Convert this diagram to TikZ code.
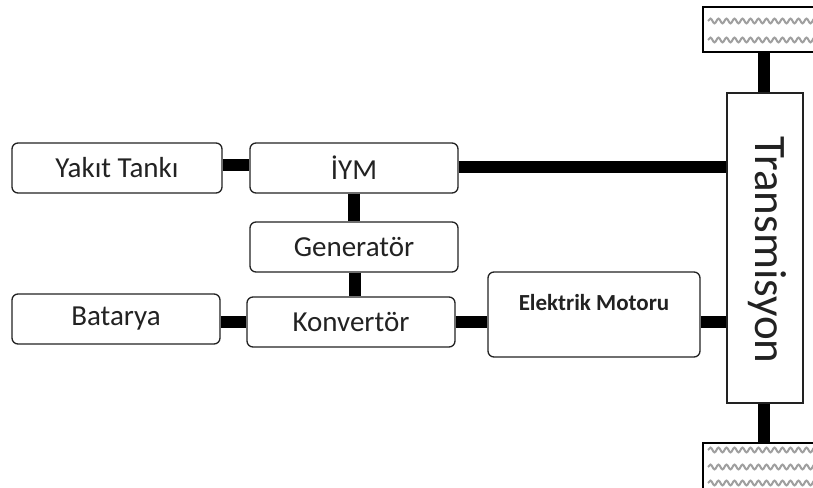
\documentclass[tikz,border=0pt]{standalone}
\usepackage{fontspec}
\setmainfont{Carlito}
\usetikzlibrary{decorations.pathmorphing}
\definecolor{ink}{HTML}{222222}
\tikzset{
  blk/.style={draw=ink, line width=1.3pt, rounded corners=6pt, fill=white,
    inner sep=0pt, minimum width=208pt, minimum height=50pt,
    font=\fontsize{29}{32}\selectfont, text=ink},
  shaft/.style={line width=12pt, black},
  tyre/.style={draw=black, line width=2pt, fill=white},
  tread/.style={gray!75, line width=2pt,
    decorate, decoration={snake, amplitude=2.4pt, segment length=8pt}}
}
\begin{document}
\begin{tikzpicture}[x=1pt,y=-1pt]
\useasboundingbox (0,0) rectangle (813,487);
\clip (0,0) rectangle (813,487);

% wheels
\draw[tyre] (703,7) rectangle (830,52);
\foreach \yy in {21,40} \draw[tread] (708,\yy) -- (825,\yy);
\draw[tyre] (703,443) rectangle (830,500);
\foreach \yy in {450,467,483} \draw[tread] (708,\yy) -- (825,\yy);

% component blocks
\node[blk, minimum width=210pt] (tank) at (117,168) {Yakıt Tankı};
\node[blk] (iym) at (354,168) {İYM};
\node[blk] (gen) at (354,247) {Generatör};
\node[blk] (conv) at (351,322) {Konvertör};
\node[blk] (bat) at (116,319) {Batarya};
\node[blk, minimum width=212pt, minimum height=85pt] (mot) at (594,314.5) {};
\node[font=\bfseries\fontsize{23}{26}\selectfont, text=ink] at (594,303) {Elektrik Motoru};
\node[draw=ink, line width=1.3pt, fill=white, minimum width=76pt, minimum height=310pt,
  inner sep=0pt] (tr) at (765,248) {};
\node[rotate=-90, font=\fontsize{45}{48}\selectfont, text=ink] at (767,250) {Transmisyon};

% shafts
\coordinate (wt) at (764,52);
\coordinate (wb) at (764,443);
\draw[shaft] (tank.east |- 0,165) -- (iym.west |- 0,165);
\draw[shaft] (iym.east |- 0,167) -- (tr.west |- 0,167);
\draw[shaft] (iym.south -| 354,0) -- (gen.north -| 354,0);
\draw[shaft] (gen.south -| 355,0) -- (conv.north -| 355,0);
\draw[shaft] (bat.east |- 0,322) -- (conv.west |- 0,322);
\draw[shaft] (conv.east |- 0,322) -- (mot.west |- 0,322);
\draw[shaft] (mot.east |- 0,322) -- (tr.west |- 0,322);
\draw[shaft] (wt) -- (tr.north -| wt);
\draw[shaft] (tr.south -| wb) -- (wb);
\end{tikzpicture}
\end{document}
